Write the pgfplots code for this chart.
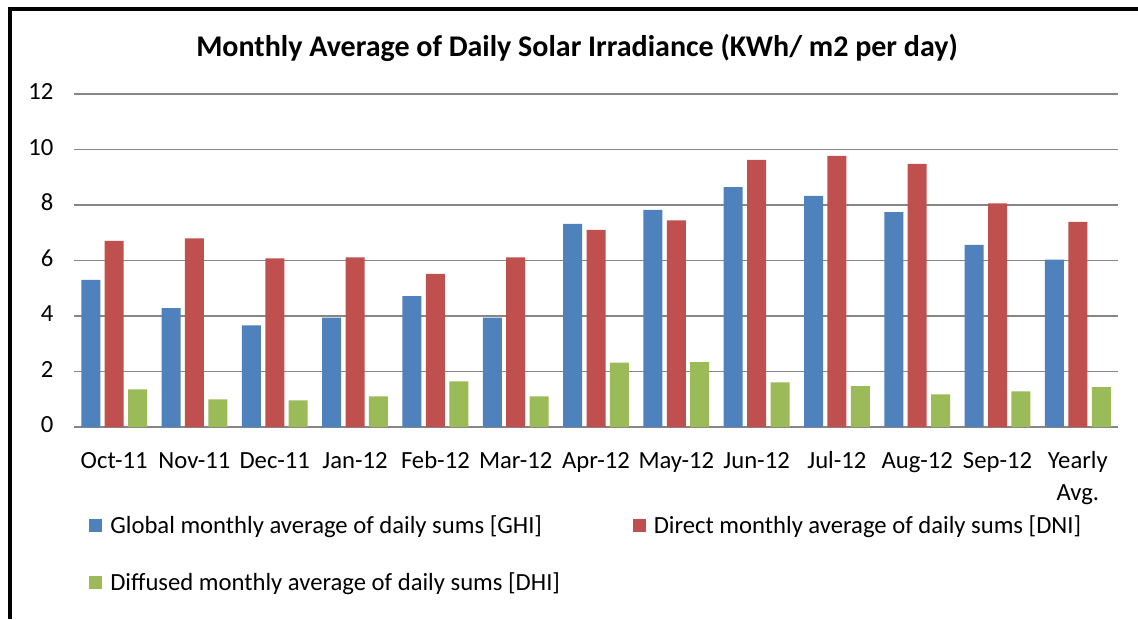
\documentclass[border=0pt]{standalone}
\usepackage{fontspec}
\setmainfont{Carlito}
\usepackage{pgfplots}
\pgfplotsset{compat=1.18}
\definecolor{ghi}{HTML}{4F81BD}
\definecolor{dni}{HTML}{C0504D}
\definecolor{dhi}{HTML}{9BBB59}
\definecolor{gridc}{HTML}{868686}
\begin{document}
\begin{tikzpicture}
\useasboundingbox (0,0) rectangle (853.5pt,464.25pt);
\fill[white] (0,0) rectangle (853.5pt,464.25pt);
\draw[black, line width=2.8pt] (7.3pt,0) -- (7.3pt,457.7pt) -- (853.5pt,457.7pt);
\node[font=\fontsize{22.5}{26}\selectfont\bfseries] at (432.75pt,428.5pt) {Monthly Average of Daily Solar Irradiance (KWh/ m2 per day)};
\begin{axis}[
  at={(55.5pt,144pt)}, anchor=south west,
  scale only axis, width=783pt, height=249.75pt,
  xmin=-0.5, xmax=12.5, ymin=0, ymax=12,
  ytick={0,2,...,12},
  xtick={0,...,12},
  xticklabels={Oct-11,Nov-11,Dec-11,Jan-12,Feb-12,Mar-12,Apr-12,May-12,Jun-12,Jul-12,Aug-12,Sep-12,{Yearly\\Avg.}},
  typeset ticklabels with strut,
  xticklabel style={align=center, font=\fontsize{18.5}{24}\selectfont, yshift=-10.5pt},
  yticklabel style={font=\fontsize{18.5}{22}\selectfont, xshift=-12pt},
  /pgf/number format/assume math mode=true,
  major tick length=0pt,
  axis lines*=left,
  y axis line style={draw=none},
  x axis line style={draw=gridc, line width=1.5pt, -},
  ymajorgrids, grid style={draw=gridc, line width=0.8pt},
  ybar=3.3pt, bar width=14.25pt,
  legend columns=2,
  legend style={draw=none, fill=none, inner sep=0pt, at={(0.0144,-0.256)}, anchor=north west,
    font=\fontsize{18.5}{22}\selectfont,
    row sep=24pt,
    /tikz/every odd column/.append style={column sep=4pt},
    /tikz/every even column/.append style={column sep=52.5pt}},
  legend cell align=left,
  legend image code/.code={\path[#1, draw=none] (0pt,-4.875pt) rectangle (9.75pt,4.875pt);},
]
\addplot[fill=ghi, draw=none] coordinates {(0,5.30) (1,4.28) (2,3.66) (3,3.94) (4,4.72) (5,3.94) (6,7.32) (7,7.82) (8,8.64) (9,8.33) (10,7.74) (11,6.56) (12,6.03)};
\addplot[fill=dni, draw=none] coordinates {(0,6.71) (1,6.80) (2,6.08) (3,6.11) (4,5.52) (5,6.11) (6,7.10) (7,7.45) (8,9.63) (9,9.77) (10,9.48) (11,8.06) (12,7.39)};
\addplot[fill=dhi, draw=none] coordinates {(0,1.36) (1,1.00) (2,0.96) (3,1.10) (4,1.64) (5,1.10) (6,2.32) (7,2.34) (8,1.61) (9,1.47) (10,1.18) (11,1.28) (12,1.44)};
\legend{Global monthly average of daily sums [GHI], Direct monthly average of daily sums [DNI], Diffused monthly average of daily sums [DHI]}
\end{axis}
\end{tikzpicture}
\end{document}
